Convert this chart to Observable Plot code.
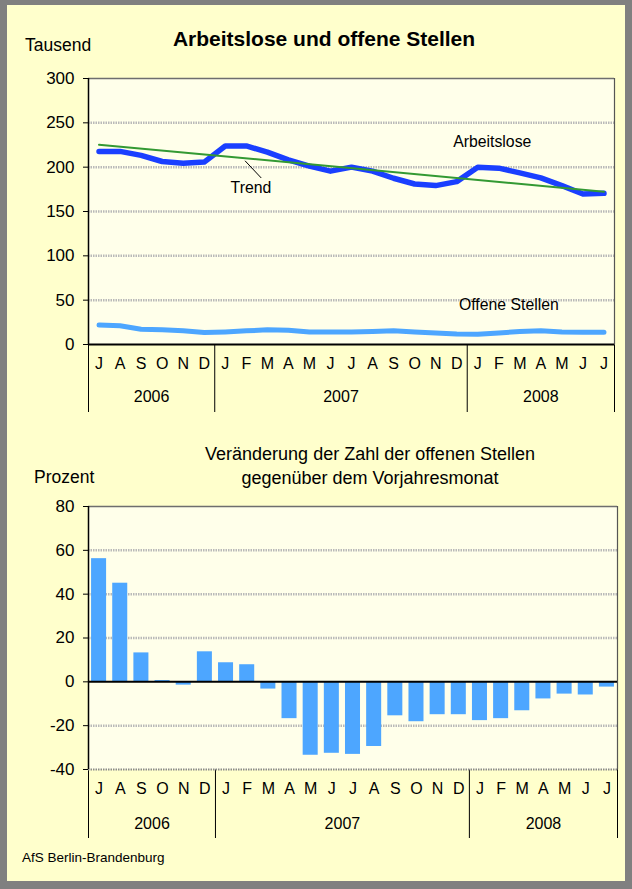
<!DOCTYPE html>
<html><head><meta charset="utf-8">
<script src="https://cdn.jsdelivr.net/npm/d3@7"></script>
<script src="https://cdn.jsdelivr.net/npm/@observablehq/plot@0.6"></script>
<style>
body{margin:0;background:#808080;width:632px;height:889px;position:relative;overflow:hidden;font-family:"Liberation Sans",Arial,sans-serif;}
#panel{position:absolute;left:7px;top:5px;width:618px;height:876px;background:#ffffcc;}
.t{position:absolute;color:#000;white-space:nowrap;line-height:1;}
.c{transform:translateX(-50%);text-align:center;}
#c1{position:absolute;left:0;top:60px;}
#c2{position:absolute;left:0;top:490px;}
</style></head><body>
<div id="panel"></div>
<div class="t c" style="left:324px;top:27.7px;font-size:21px;font-weight:bold">Arbeitslose und offene Stellen</div>
<div class="t" style="left:25px;top:36.5px;font-size:17.5px">Tausend</div>
<div class="t c" style="left:370px;top:444.7px;font-size:18px">Veränderung der Zahl der offenen Stellen</div>
<div class="t c" style="left:370px;top:469.2px;font-size:18px">gegenüber dem Vorjahresmonat</div>
<div class="t" style="left:34px;top:469.4px;font-size:17.5px">Prozent</div>
<div class="t" style="left:22px;top:851.4px;font-size:13.5px">AfS Berlin-Brandenburg</div>
<div id="c1"></div>
<div id="c2"></div>
<script>
const months = ["J","A","S","O","N","D","J","F","M","A","M","J","J","A","S","O","N","D","J","F","M","A","M","J","J"];
const years = ["2006","2007","2008"];
const yearStart = [0, 6, 18];
const yearEnd = [5, 17, 24];
const arbeitslose = [217.8,217.8,213.3,206.4,204.5,205.7,223.9,223.9,217.0,208.3,201.1,195.5,200.0,195.5,187.5,181.0,179.2,183.7,200.0,198.9,193.6,187.9,179.2,169.7,170.5];
const offeneStellen = [21.9,21.2,17.3,16.5,15.4,13.5,14.2,15.4,16.5,16.2,14.2,14.2,14.2,14.6,15.4,14.2,13.1,11.9,11.5,13.1,14.6,15.4,14.2,13.8,13.8];
const trendStartEnd = [225.4, 172.3];
const veraenderung = [56.2,45.0,13.2,0.6,-1.5,13.7,8.7,7.8,-3.3,-16.8,-33.5,-32.6,-33.1,-29.5,-15.5,-18.2,-15.0,-15.0,-17.7,-16.8,-13.2,-7.8,-5.6,-6.0,-2.4];
const yTicksTop = [0,50,100,150,200,250,300];
const yTicksBottom = [-40,-20,0,20,40,60,80];
const annotText = ["Arbeitslose","Trend","Offene Stellen"];
const annotX = [18.69, 7.22, 19.48];
const annotY = [228.2, 177.1, 44.2];
const leader = {x1: 6.94, y1: 207.2, x2: 7.71, y2: 187.8};

const idx = months.map((d,i)=>i);
const bounds = [...yearStart.map(s=>s-0.5), yearEnd[yearEnd.length-1]+0.5];
const font = {fontFamily:'"Liberation Sans", Arial, sans-serif', fontSize:"17px", color:"black", background:"transparent", overflow:"visible"};
const grid = {stroke:"#b9b9b9", strokeWidth:2.5, strokeDasharray:"1.5,1"};

const p1 = Plot.plot({
  width:632, height:360, marginLeft:88, marginRight:18, marginTop:18, marginBottom:76,
  style: font,
  x: {domain:[-0.5,24.5], ticks: bounds, tickSize:68, tickFormat: ()=>"", label:null},
  y: {domain:[0,300], ticks: yTicksTop, tickSize:5, tickPadding:9, label:null, tickFormat: d=>String(d)},
  marks: [
    Plot.frame({fill:"#ffffea", stroke:"none"}),
    Plot.ruleY(yTicksTop.filter(v=>v>0 && v<300), grid),
    Plot.ruleY([300], {stroke:"#6e6e6e", strokeWidth:1.5}),
    Plot.ruleX([24.5], {stroke:"#555", strokeWidth:1.2}),
    Plot.line(idx, {x:i=>i, y:i=>offeneStellen[i], stroke:"#4da6ff", strokeWidth:5, strokeLinejoin:"round", strokeLinecap:"round"}),
    Plot.line(idx, {x:i=>i, y:i=>arbeitslose[i], stroke:"#1a3fff", strokeWidth:5.5, strokeLinejoin:"round"}),
    Plot.line([0,24], {x:d=>d, y:(d,j)=>trendStartEnd[j], stroke:"#339933", strokeWidth:2}),
    Plot.ruleY([0], {stroke:"black", strokeWidth:2}),
    Plot.ruleX([-0.5], {stroke:"black", strokeWidth:1.5}),
    Plot.text(annotText, {x:(d,i)=>annotX[i], y:(d,i)=>annotY[i], text:d=>d, fontSize:15.8, fill:"black"}),
    Plot.link([leader], {x1:"x1", y1:"y1", x2:"x2", y2:"y2", stroke:"black", strokeWidth:1}),
    Plot.text(months, {x:(d,i)=>i, text:d=>d, frameAnchor:"bottom", dy:24, fontSize:16, fill:"black"}),
    Plot.text(years, {x:(d,i)=>(yearStart[i]+yearEnd[i])/2, text:d=>d, frameAnchor:"bottom", dy:57, fontSize:16, fill:"black"})
  ]
});
document.getElementById("c1").appendChild(p1);

const p2 = Plot.plot({
  width:632, height:355, marginLeft:88, marginRight:15, marginTop:16, marginBottom:76,
  style: font,
  x: {domain:[-0.5,24.5], ticks: bounds, tickSize:69, tickFormat: ()=>"", label:null},
  y: {domain:[-40,80], ticks: yTicksBottom, tickSize:5, tickPadding:9, label:null, tickFormat: d=>String(d)},
  marks: [
    Plot.frame({fill:"#ffffea", stroke:"none"}),
    Plot.ruleY(yTicksBottom.filter(v=>v!==0 && v>-40 && v<80), grid),
    Plot.ruleY([80], {stroke:"#6e6e6e", strokeWidth:1.5}),
    Plot.ruleY([-40], {stroke:"#8a8a8a", strokeWidth:2, strokeDasharray:"1.5,1"}),
    Plot.ruleX([24.5], {stroke:"#555", strokeWidth:1.2}),
    Plot.rectY(idx, {x1:i=>i-0.355, x2:i=>i+0.355, y:i=>veraenderung[i], fill:"#4da6ff"}),
    Plot.ruleY([0], {stroke:"black", strokeWidth:2}),
    Plot.ruleX([-0.5], {stroke:"black", strokeWidth:1.5}),
    Plot.text(months, {x:(d,i)=>i, text:d=>d, frameAnchor:"bottom", dy:24, fontSize:16, fill:"black"}),
    Plot.text(years, {x:(d,i)=>(yearStart[i]+yearEnd[i])/2, text:d=>d, frameAnchor:"bottom", dy:59, fontSize:16, fill:"black"})
  ]
});
document.getElementById("c2").appendChild(p2);
</script>
</body></html>
